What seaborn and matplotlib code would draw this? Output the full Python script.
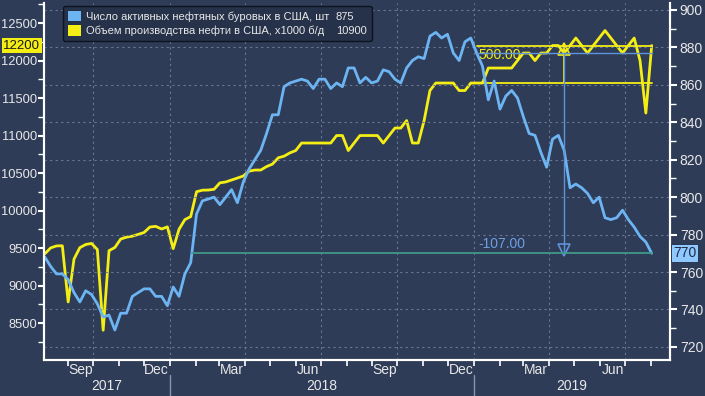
import numpy as np
import pandas as pd
import matplotlib
matplotlib.use('Agg')
import matplotlib.pyplot as plt
import matplotlib.dates as mdates
import matplotlib.transforms as mtransforms
from matplotlib.patches import Patch
from matplotlib.ticker import MultipleLocator, FixedLocator, NullFormatter
import seaborn as sns

# weekly data (Fridays), Aug 2017 - Aug 2019
dates = pd.date_range('2017-08-04', '2019-08-02', freq='W-FRI')

# US active oil rigs (right axis)
rigs = [768, 763, 759, 759, 756, 749, 744, 750, 748, 743,
        736, 737, 729, 738, 738, 747, 749, 751, 751, 747,
        747, 742, 752, 747, 759, 765, 791, 798, 799, 800,
        796, 800, 804, 797, 808, 815, 820, 825, 834, 844,
        844, 859, 861, 862, 863, 862, 858, 863, 863, 858,
        861, 859, 869, 869, 861, 864, 861, 862, 868, 867,
        863, 861, 869, 873, 875, 874, 886, 888, 885, 887,
        877, 873, 883, 885, 877, 870, 852, 862, 847, 854,
        857, 853, 843, 834, 833, 824, 816, 831, 833, 825,
        805, 807, 805, 802, 797, 800, 789, 788, 789, 793,
        788, 784, 779, 776, 770]

# US crude output, x1000 b/d (left axis)
output = [9423, 9502, 9528, 9530, 8781, 9353, 9505, 9547, 9561, 9480,
          8404, 9465, 9507, 9620, 9645, 9658, 9682, 9707, 9780, 9789,
          9754, 9782, 9492, 9750, 9879, 9919, 10251, 10271, 10273, 10283,
          10369, 10381, 10407, 10433, 10460, 10525, 10540, 10540, 10586, 10619,
          10703, 10725, 10769, 10800, 10900, 10900, 10900, 10900, 10900, 10900,
          11000, 11000, 10800, 10900, 11000, 11000, 11000, 11000, 10900, 11000,
          11100, 11100, 11200, 10900, 10900, 11200, 11600, 11700, 11700, 11700,
          11700, 11600, 11600, 11700, 11700, 11700, 11900, 11900, 11900, 11900,
          11900, 12000, 12100, 12100, 12000, 12100, 12100, 12200, 12200, 12100,
          12200, 12300, 12200, 12100, 12200, 12300, 12400, 12300, 12200, 12100,
          12200, 12300, 12000, 11300, 12200]

legend_names = ['Число активных нефтяных буровых в США, шт',
                'Объем производства нефти в США, x1000 б/д']
legend_values = ['875', '10900']
quarter_months = ['Sep', 'Dec', 'Mar', 'Jun']
measure_start = '2019-01-04'

BG = '#2e3c58'
YELLOW = '#f4ee14'
BLUE = '#6cb4f2'
GREEN = '#3f9a88'
FG = '#e8e8e8'

sns.set_theme(style='dark')
plt.rcParams['font.family'] = ['Liberation Sans', 'DejaVu Sans']

df = pd.DataFrame({'date': dates, 'rigs': rigs, 'output': output})

fig = plt.figure(figsize=(7.05, 3.96), dpi=100, facecolor=BG)
ax1 = fig.add_axes([0.0624, 0.0909, 0.888, 0.9015])
ax1.set_facecolor(BG)
ax2 = ax1.twinx()

sns.lineplot(data=df, x='date', y='output', ax=ax1, color=YELLOW, lw=2)
sns.lineplot(data=df, x='date', y='rigs', ax=ax2, color=BLUE, lw=2)

ax1.set_xlim(pd.Timestamp('2017-08-03'), pd.Timestamp('2019-08-24'))
ax1.set_ylim(8007, 12767)
ax2.set_ylim(713, 903.7)

# measurement annotations (Bloomberg style)
i0 = list(dates).index(pd.Timestamp(measure_start))
d0, d1 = dates[i0], dates[-1]
dmid = d0 + (d1 - d0) / 2
o0, o1 = output[i0], output[-1]
r0, r1 = rigs[i0], rigs[-1]
ax1.plot([d0, d1], [o1, o1], color=YELLOW, lw=1.3)
ax1.plot([d0, d1], [o0, o0], color=YELLOW, lw=1.3)
ax1.plot([dmid, dmid], [o0, o1], color=YELLOW, lw=1.3)
ax1.plot([dmid], [o1 - 40], marker='^', ms=8, mfc='none', mec=YELLOW, mew=1.2)
ax1.text(d0 + pd.Timedelta(days=2), o1 - 30, f'{o1 - o0:.2f}', color=YELLOW,
         fontsize=10, ha='left', va='top')

ax2.plot([d0, d1], [r0, r0], color='#5f93d8', lw=1)
ax2.plot([dmid, dmid], [r0, r1], color='#5f93d8', lw=1)
ax2.plot([dmid], [r1 + 2], marker='v', ms=8, mfc='none', mec='#5f93d8', mew=1.2)
ax2.text(d0 + pd.Timedelta(days=2), r1 + 1, f'{r1 - r0:.2f}', color='#6f9ee0',
         fontsize=10, ha='left', va='bottom')

# level line of the last rig value back to where the series crossed it
rv = np.array(rigs)
k = len(rv) - 1
while k > 0 and rv[k - 1] >= r1:
    k -= 1
t_a, t_b = mdates.date2num(dates[k - 1]), mdates.date2num(dates[k])
t_cross = t_a + (r1 - rv[k - 1]) / (rv[k] - rv[k - 1]) * (t_b - t_a)
d_cross = dates[k - 1] + pd.Timedelta(days=t_cross - t_a)
ax2.plot([d_cross, d1], [r1, r1], color=GREEN, lw=1.3)

# axes styling
for ax in (ax1, ax2):
    for s in ('left', 'right', 'bottom'):
        ax.spines[s].set_color('white')
        ax.spines[s].set_linewidth(1.5)
    ax.spines['top'].set_visible(False)
    ax.set_xlabel('')
    ax.set_ylabel('')

ax1.yaxis.set_major_locator(MultipleLocator(500))
ax1.yaxis.set_minor_locator(MultipleLocator(250))
ax2.yaxis.set_major_locator(MultipleLocator(20))
ax2.yaxis.set_minor_locator(MultipleLocator(10))
ax1.tick_params(axis='y', which='major', left=True, length=4, width=1.5, color='white',
                labelcolor=FG, labelsize=9.3, pad=1)
ax1.tick_params(axis='y', which='minor', left=True, length=4, width=1, color='white')
ax2.tick_params(axis='y', which='major', right=True, length=5, width=1.5, color='white',
                labelcolor=FG, labelsize=10, pad=2)
ax2.tick_params(axis='y', which='minor', right=True, length=4, width=1, color='white')
ax2.grid(axis='y', which='major', color='#6a7896', ls=(0, (2, 3)), lw=0.8)
ax1.grid(False)

# x axis: month ticks, quarter labels, year row
ax1.xaxis.set_major_locator(mdates.MonthLocator())
ax1.xaxis.set_major_formatter(NullFormatter())
mid_months = [d for d in pd.date_range('2017-08-01', '2019-08-01', freq='MS') + pd.Timedelta(days=15)
              if d.strftime('%b') in quarter_months]
ax1.xaxis.set_minor_locator(FixedLocator(mdates.date2num(mid_months)))
ax1.xaxis.set_minor_formatter(plt.FuncFormatter(lambda v, p: mdates.num2date(v).strftime('%b')))
ax1.tick_params(axis='x', which='major', bottom=True, length=4, width=1.2, color='white')
ax1.tick_params(axis='x', which='minor', bottom=True, length=0, labelcolor=FG, labelsize=10, pad=2)

for d in pd.date_range('2017-08-01', '2019-08-01', freq='MS'):
    if d.month in (1, 4, 7, 10):
        ax1.axvline(d, color='#6a7896', ls=(0, (2, 3)), lw=0.8, zorder=0)

trans = mtransforms.blended_transform_factory(ax1.transData, ax1.transAxes)
x_lo, x_hi = ax1.get_xlim()
for yr in (2017, 2018, 2019):
    a = max(mdates.date2num(pd.Timestamp(f'{yr}-01-01')), x_lo)
    b = min(mdates.date2num(pd.Timestamp(f'{yr + 1}-01-01')), x_hi)
    ax1.text((a + b) / 2, -0.072, str(yr), transform=trans, ha='center', va='center',
             color=FG, fontsize=10)
    if yr > 2017:
        ax1.plot([a, a], [-0.042, -0.11], transform=trans, color='#8a94a8', lw=1, clip_on=False)

# value tags on the axes
ax1.text(-0.006, o1, f'{o1}', transform=mtransforms.blended_transform_factory(ax1.transAxes, ax1.transData),
         ha='right', va='center', fontsize=9.5, color='#1a1a1a',
         bbox=dict(boxstyle='square,pad=0.12', fc=YELLOW, ec='none'))
ax2.text(1.005, r1, f'{r1}', transform=mtransforms.blended_transform_factory(ax2.transAxes, ax2.transData),
         ha='left', va='center', fontsize=10, color='#1f2a44',
         bbox=dict(boxstyle='square,pad=0.15', fc='#8ec8ff', ec='#1f2a44', lw=0.6))

# legend: names in first column, current values in second
handles = [Patch(facecolor=BLUE, edgecolor='none'), Patch(facecolor=YELLOW, edgecolor='none'),
           Patch(alpha=0), Patch(alpha=0)]
leg = ax2.legend(handles, legend_names + legend_values, ncol=2, loc='upper left',
                 bbox_to_anchor=(0.026, 1.0), borderaxespad=0.25, fontsize=8.0, frameon=True,
                 handlelength=1.2, handleheight=1.1, handletextpad=0.45, borderpad=0.45,
                 labelspacing=0.3, columnspacing=-1.1, fancybox=True)
leg.get_frame().set_facecolor('#263249')
leg.get_frame().set_edgecolor('#0e1320')
leg.get_frame().set_alpha(1)
for t in leg.get_texts():
    t.set_color(FG)

fig.savefig('out.png', dpi=100, facecolor=BG)
